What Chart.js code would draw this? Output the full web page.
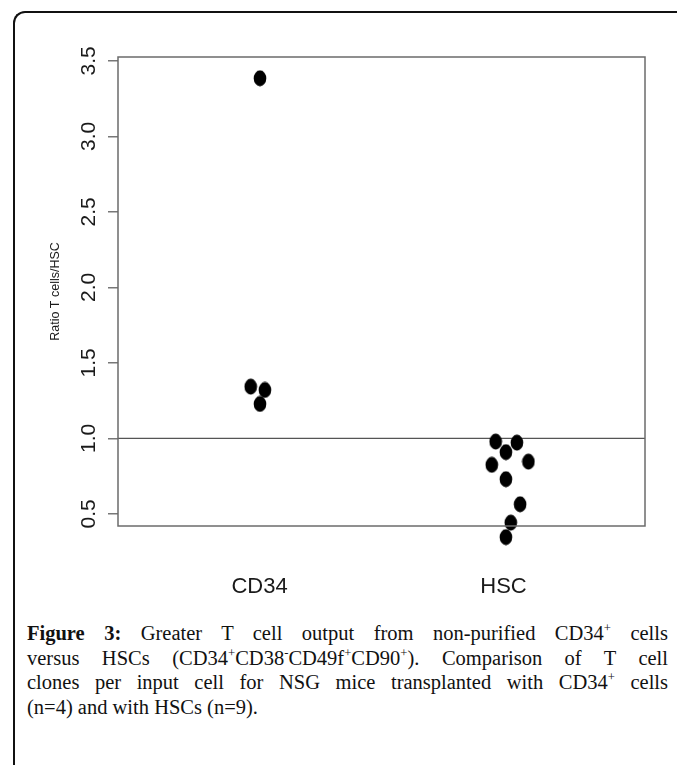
<!DOCTYPE html>
<html>
<head>
<meta charset="utf-8">
<script src="https://cdn.jsdelivr.net/npm/chart.js@4.4.1/dist/chart.umd.min.js"></script>
<style>
  html, body { margin: 0; padding: 0; background: #fff; overflow: hidden; }
  body { width: 677px; height: 765px; position: relative; }
  #frame {
    position: absolute; left: 13px; top: 11px; width: 720px; height: 800px;
    border-left: 2px solid #111; border-top: 2px solid #111;
    border-top-left-radius: 12px; box-sizing: border-box;
  }
  #wrap { position: absolute; left: 0; top: 0; width: 677px; height: 600px; }
  #caption {
    position: absolute; left: 27px; top: 621px; width: 641px;
    font-family: "Liberation Serif", "DejaVu Serif", serif;
    font-size: 20.5px; line-height: 24.5px; color: #111;
  }
  #caption div { text-align: justify; text-align-last: justify; white-space: nowrap; }
  #caption div.last { text-align-last: left; }
  #caption b { font-weight: bold; }
  #caption sup { font-size: 0.62em; line-height: 0; vertical-align: 0.6em; }
</style>
</head>
<body>
<div id="frame"></div>
<div id="wrap"><canvas id="ratioChart" width="677" height="600"></canvas></div>
<div id="caption">
  <div><b>Figure 3:</b> Greater T cell output from non-purified CD34<sup>+</sup> cells</div>
  <div>versus HSCs (CD34<sup>+</sup>CD38<sup>-</sup>CD49f<sup>+</sup>CD90<sup>+</sup>). Comparison of T cell</div>
  <div>clones per input cell for NSG mice transplanted with CD34<sup>+</sup> cells</div>
  <div class="last">(n=4) and with HSCs (n=9).</div>
</div>
<script>
// Groups and their position on the x axis
const groups = ['CD34', 'HSC'];
const groupPos = [1, 2];

// Jittered points (x = group position + jitter, y = ratio)
const cd34X = [1.002, 0.964, 1.022, 1.002];
const cd34Y = [3.385, 1.343, 1.321, 1.228];
const hscX = [1.968, 2.055, 2.010, 1.952, 2.102, 2.010, 2.068, 2.030, 2.010];
const hscY = [0.979, 0.972, 0.909, 0.825, 0.846, 0.730, 0.564, 0.442, 0.346];

// Reference line at ratio = 1
const refX = [0.42, 2.58];
const refY = [1, 1];

// Axis ticks
const yTicks = [0.5, 1.0, 1.5, 2.0, 2.5, 3.0, 3.5];

const toPoints = (xs, ys) => xs.map((x, i) => ({ x: x, y: ys[i] }));

// Black ellipse used as the point marker
const dot = document.createElement('canvas');
dot.width = 14;
dot.height = 17;
const dctx = dot.getContext('2d');
dctx.fillStyle = '#000';
dctx.beginPath();
dctx.ellipse(7, 8.5, 6.3, 7.9, 0, 0, Math.PI * 2);
dctx.fill();

// Box round the plot area
const plotBox = {
  id: 'plotBox',
  afterDatasetsDraw(chart) {
    const a = chart.chartArea;
    const c = chart.ctx;
    c.save();
    c.strokeStyle = '#6b6b6b';
    c.lineWidth = 1.5;
    c.strokeRect(a.left, a.top, a.right - a.left, a.bottom - a.top);
    c.restore();
  }
};

const ctx = document.getElementById('ratioChart').getContext('2d');
const ratioChart = new Chart(ctx, {
  data: {
    datasets: [
      {
        type: 'line',
        data: toPoints(refX, refY),
        borderColor: '#555',
        borderWidth: 1.3,
        pointRadius: 0,
        order: 2
      },
      {
        type: 'scatter',
        data: toPoints(cd34X, cd34Y),
        pointStyle: dot,
        pointRadius: 20,   // only widens the in-area check, the image sets the size
        clip: false,
        order: 1
      },
      {
        type: 'scatter',
        data: toPoints(hscX, hscY),
        pointStyle: dot,
        pointRadius: 20,
        clip: false,
        order: 1
      }
    ]
  },
  options: {
    responsive: false,
    animation: false,
    events: [],
    layout: { padding: { left: 0, top: 57, right: 32, bottom: 0 } },
    plugins: { legend: { display: false }, tooltip: { enabled: false } },
    scales: {
      x: {
        type: 'linear',
        min: refX[0],
        max: refX[1],
        grid: { display: false, drawTicks: false },
        border: { display: false },
        afterBuildTicks: (scale) => { scale.ticks = groupPos.map(v => ({ value: v })); },
        afterFit: (scale) => { scale.height = 74; },
        ticks: {
          padding: 48,
          color: '#1a1a1a',
          font: { family: 'Liberation Sans, Arial, sans-serif', size: 22 },
          callback: (v) => groups[groupPos.indexOf(v)] || ''
        }
      },
      y: {
        type: 'linear',
        min: 0.42,
        max: 3.526,
        border: { display: false },
        grid: { drawOnChartArea: false, tickLength: 10, color: '#777', lineWidth: 1.5 },
        afterBuildTicks: (scale) => { scale.ticks = yTicks.map(v => ({ value: v })); },
        afterFit: (scale) => { scale.width = 118; },
        title: {
          display: true,
          text: 'Ratio T cells/HSC',
          color: '#1a1a1a',
          font: { family: 'Liberation Sans, Arial, sans-serif', size: 12.5 },
          padding: { top: 48, bottom: 0 }
        },
        ticks: {
          minRotation: 90,
          maxRotation: 90,
          crossAlign: 'center',
          padding: 4,
          color: '#1a1a1a',
          font: { family: 'Liberation Sans, Arial, sans-serif', size: 21 },
          callback: (v) => v.toFixed(1)
        }
      }
    }
  },
  plugins: [plotBox]
});
</script>
</body>
</html>
